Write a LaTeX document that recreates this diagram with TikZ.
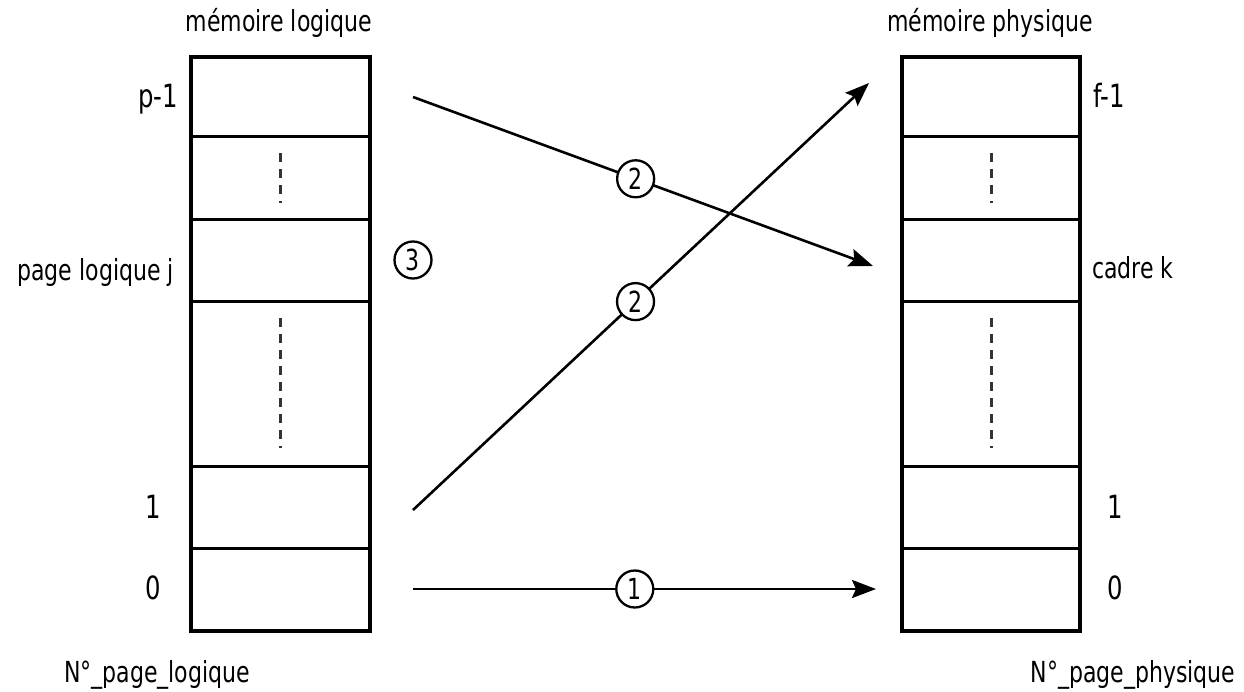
\documentclass[tikz,border=0pt]{standalone}
\usepackage{fontspec}
\setmainfont[FakeStretch=0.76]{DejaVu Sans}
\usetikzlibrary{arrows.meta}
\begin{document}
\begin{tikzpicture}[x=1pt,y=-1pt,
  cell/.style={draw, line width=3pt, minimum width=179pt, inner sep=0pt, outer sep=0pt},
  lbl/.style={font=\fontsize{29}{31}\selectfont, inner sep=0pt},
  num/.style={font=\fontsize{32}{34}\selectfont, inner sep=0pt},
  circ/.style={draw, circle, fill=white, line width=2.3pt, minimum size=37pt, inner sep=0pt, font=\fontsize{29}{30}\selectfont},
  conn/.style={line width=2.6pt, -{Stealth[length=24pt,width=18pt,inset=4pt]}},
  dots/.style={draw=black!80, line width=3pt, dash pattern=on 9pt off 7pt}]
\useasboundingbox (0,0) rectangle (1244,692);
% left column
\node[cell, minimum height=80pt] (L6) at (280.5,97) {};
\node[cell, minimum height=83pt] (L5) at (280.5,178.5) {};
\node[cell, minimum height=82pt] (Lj) at (280.5,261) {};
\node[cell, minimum height=164pt] (L3) at (280.5,384) {};
\node[cell, minimum height=82pt] (L1) at (280.5,507) {};
\node[cell, minimum height=83pt] (L0) at (280.5,589.5) {};
\draw[line width=3.6pt] (L6.north west) rectangle (L0.south east);
% right column
\node[cell, minimum width=178pt, minimum height=80pt] (R6) at (991,97) {};
\node[cell, minimum width=178pt, minimum height=83pt] (R5) at (991,178.5) {};
\node[cell, minimum width=178pt, minimum height=82pt] (Rk) at (991,261) {};
\node[cell, minimum width=178pt, minimum height=164pt] (R3) at (991,384) {};
\node[cell, minimum width=178pt, minimum height=82pt] (R1) at (991,507) {};
\node[cell, minimum width=178pt, minimum height=83pt] (R0) at (991,589.5) {};
\draw[line width=3.6pt] (R6.north west) rectangle (R0.south east);
% dotted fillers
\draw[dots] (280,153) -- (280,203);
\draw[dots] (280,318) -- (280,448);
\draw[dots] (991,153) -- (991,203);
\draw[dots] (991,318) -- (991,448);
% titles
\node[lbl, anchor=base] (tl) at (279,32) {mémoire logique};
\node[lbl, anchor=base] (tr) at (990,32) {mémoire physique};
% left labels
\node[num, anchor=base east] (lp) at (178,108) {p-1};
\node[lbl, anchor=base east] (lj) at (174,281) {page logique j};
\node[num, anchor=base] (l1) at (153,518) {1};
\node[num, anchor=base] (l0) at (153,599) {0};
\node[lbl, anchor=base] (nl) at (157,682) {N°\_page\_logique};
% right labels
\node[num, anchor=base west] (rf) at (1093,108) {f-1};
\node[lbl, anchor=base west] (rk) at (1092,279) {cadre k};
\node[num, anchor=base] (r1) at (1115,518) {1};
\node[num, anchor=base] (r0) at (1115,599) {0};
\node[lbl, anchor=base] (nr) at (1133,682) {N°\_page\_physique};
% connectors
\coordinate (s0) at (413,589);
\coordinate (e0) at (876,589);
\coordinate (s1) at (413,97);
\coordinate (e1) at (873,266);
\coordinate (s2) at (413,510);
\coordinate (e2) at (869,83);
\draw[conn] (s0) -- (e0) node[circ, pos=0.479] (c1) {1};
\draw[conn] (s1) -- (e1) node[circ, pos=0.484] (c2a) {2};
\draw[conn] (s2) -- (e2) node[circ, pos=0.488] (c2b) {2};
\node[circ] (c3) at (413,260) {3};
\end{tikzpicture}
\end{document}
